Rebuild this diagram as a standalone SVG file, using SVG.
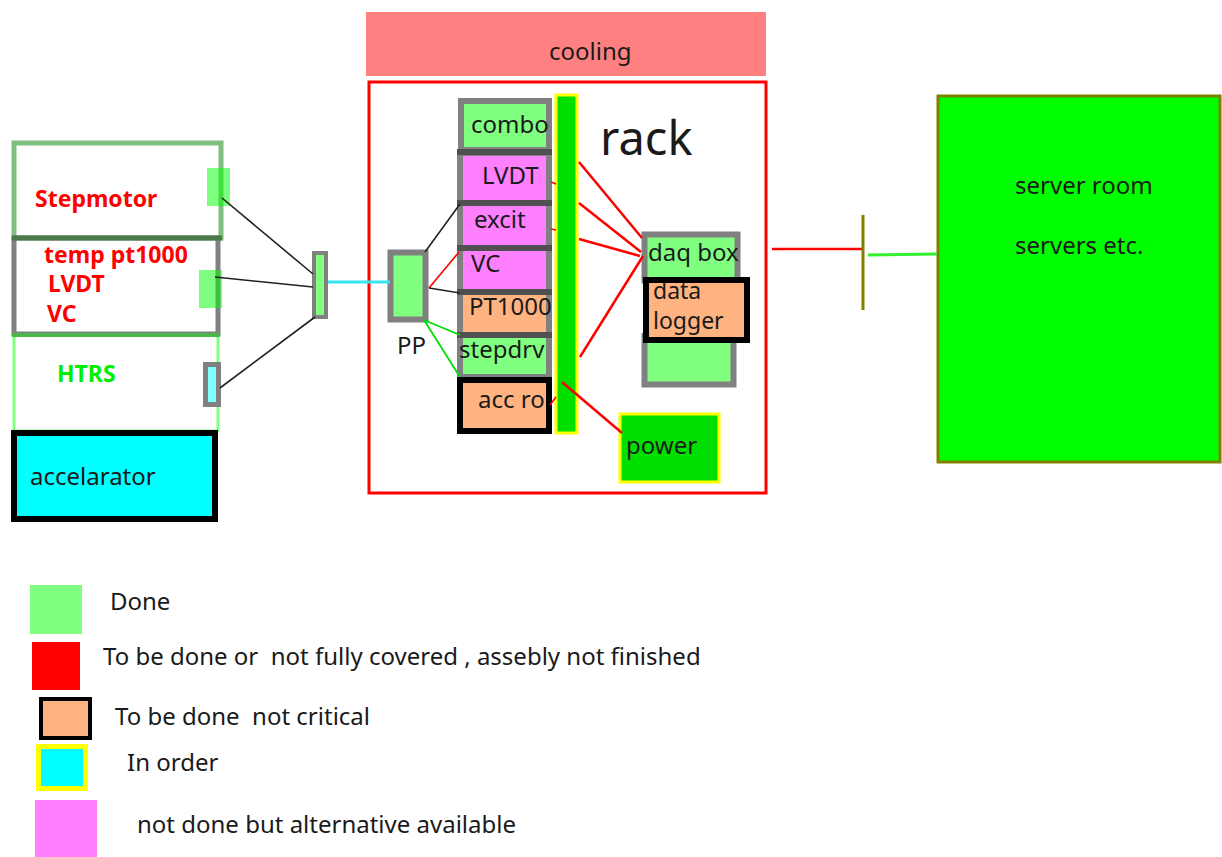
<svg xmlns="http://www.w3.org/2000/svg" width="1222" height="857" viewBox="0 0 1222 857">
<style>
text{font-family:"Noto Sans","Open Sans","DejaVu Sans",sans-serif;fill:#1a1a1a;font-size:24px;white-space:pre}
.lbl{font-weight:bold;fill:#ff0000;font-size:23px}
.grn{fill:#00ee00}
.big{font-size:47px}
.sm{font-size:23px}
.gbox{stroke:#808080;stroke-width:6}
.sep{stroke:#505050;stroke-width:6}
.done{fill:#80ff80}
.pink{fill:#ff80ff}
.peach{fill:#ffb380}
.tab{fill:#00ff00;fill-opacity:0.5}
.k{stroke:#222;stroke-width:1.6;fill:none}
.r{stroke:#ff0000;stroke-width:2.5;fill:none}
.rt{stroke:#ff0000;stroke-width:1.6;fill:none}
.g{stroke:#00dd00;stroke-width:1.8;fill:none}
</style>
<rect width="1222" height="857" fill="#ffffff"/>

<g id="cooling">
<rect x="366" y="12" width="400" height="64" fill="#ff8080"/>
<text x="549" y="60">cooling</text>
</g>

<g id="rack">
<rect x="369" y="82" width="397" height="411" fill="none" stroke="#ff0000" stroke-width="3"/>
<text class="big" x="600" y="155">rack</text>
</g>

<g id="stepmotor">
<rect x="14" y="143" width="207" height="95" fill="#ffffff" stroke="#008000" stroke-opacity="0.5" stroke-width="5"/>
<text class="lbl" x="35" y="207">Stepmotor</text>
</g>
<g id="temp">
<rect x="14" y="238" width="204" height="96" fill="#ffffff" stroke="#808080" stroke-width="5"/>
<line x1="12" y1="238" x2="222" y2="238" stroke="#4a7a4a" stroke-width="5"/>
<text class="lbl" x="44" y="263">temp pt1000</text>
<text class="lbl" x="48" y="292">LVDT</text>
<text class="lbl" x="47" y="322">VC</text>
</g>
<g id="htrs">
<rect x="14" y="335" width="204" height="96" fill="#ffffff" stroke="#80ff80" stroke-width="3"/>
<line x1="12" y1="335" x2="220" y2="335" stroke="#4cb84c" stroke-width="4"/>
<text class="lbl grn" x="57" y="382">HTRS</text>
</g>
<g id="accelarator">
<rect x="14" y="433" width="201" height="86" fill="#00ffff" stroke="#000000" stroke-width="6"/>
<text x="30" y="485">accelarator</text>
</g>
<g id="tab-step"><rect class="tab" x="207" y="168" width="23" height="38"/></g>
<g id="tab-temp"><rect class="tab" x="199" y="270" width="23" height="38"/></g>
<g id="tab-htrs"><rect x="205.5" y="364.5" width="13" height="40" fill="#80ffff" stroke="#808080" stroke-width="5"/></g>
<g id="junction"><rect x="314" y="253" width="12" height="64" fill="#80ff80" stroke="#808080" stroke-width="4"/></g>

<g id="pp">
<rect x="390.5" y="252.5" width="35" height="67" class="done gbox" stroke-width="5"/>
<text x="397" y="354">PP</text>
</g>

<g id="combo">
<rect x="461" y="101" width="88" height="49" class="done gbox"/>
<text x="471" y="133">combo</text>
</g>
<g id="lvdt">
<rect x="460" y="153" width="89" height="50" class="pink gbox"/>
<text x="482" y="184">LVDT</text>
</g>
<g id="excit">
<rect x="460" y="203" width="89" height="45" class="pink gbox"/>
<text x="474" y="228">excit</text>
</g>
<g id="vc">
<rect x="460" y="248" width="89" height="44" class="pink gbox"/>
<text x="471" y="272">VC</text>
</g>
<g id="pt1000">
<rect x="460" y="292" width="89" height="43" class="peach gbox"/>
<text x="469" y="315">PT1000</text>
</g>
<g id="stepdrv">
<rect x="460" y="335" width="89" height="42" class="done gbox"/>
<text x="459" y="358">stepdrv</text>
</g>
<g id="separators">
<line class="sep" x1="457" y1="152" x2="552" y2="152"/>
<line class="sep" x1="457" y1="203" x2="552" y2="203"/>
<line class="sep" x1="457" y1="248" x2="552" y2="248"/>
<line class="sep" x1="457" y1="292" x2="552" y2="292"/>
<line class="sep" x1="457" y1="335" x2="552" y2="335"/>
</g>
<g id="accro">
<rect x="460" y="380" width="89" height="51" class="peach" stroke="#000000" stroke-width="6"/>
<text x="478" y="408">acc ro</text>
</g>

<g id="bus">
<rect x="556" y="95" width="21" height="338" fill="#00e000" stroke="#ffff00" stroke-width="3"/>
</g>

<g id="daqbox">
<rect x="644.5" y="234.5" width="93" height="46" class="done gbox" stroke-width="5"/>
<text x="648" y="261">daq box</text>
</g>
<g id="lowerbox">
<rect x="644.5" y="336" width="89" height="48.5" class="done gbox" stroke-width="5"/>
</g>
<g id="datalogger">
<rect x="646" y="280" width="101" height="60" class="peach"/>
<text class="sm" x="653" y="299">data</text>
<text class="sm" x="653" y="329">logger</text>
<rect x="646" y="280" width="101" height="60" fill="none" stroke="#000000" stroke-width="6"/>
</g>

<g id="power">
<rect x="620" y="414" width="99" height="68" fill="#00e000" stroke="#ffff00" stroke-width="3"/>
<text x="626" y="454">power</text>
</g>

<g id="server">
<rect x="938" y="96" width="282" height="366" fill="#00ff00" stroke="#808000" stroke-width="3"/>
<text x="1015" y="194">server room</text>
<text x="1015" y="254">servers etc.</text>
</g>

<g id="connectors">
<line class="k" x1="222" y1="198" x2="313" y2="274"/>
<line class="k" x1="215" y1="277" x2="313" y2="287"/>
<line class="k" x1="220" y1="388" x2="315" y2="317"/>
<line x1="328" y1="282" x2="390" y2="282" stroke="#33e6f0" stroke-width="3"/>
<line class="k" x1="425" y1="252" x2="460" y2="204"/>
<line class="rt" x1="429" y1="288" x2="459" y2="252"/>
<line class="k" x1="429" y1="288" x2="460" y2="293"/>
<line class="g" x1="424" y1="320" x2="460" y2="335"/>
<line class="g" x1="424" y1="320" x2="460" y2="377"/>
<line class="rt" x1="551" y1="182" x2="556" y2="184"/>
<line class="rt" x1="551" y1="229" x2="556" y2="230"/>
<line class="rt" x1="550" y1="405" x2="556" y2="397"/>
<line class="r" x1="579" y1="162" x2="642" y2="238"/>
<line class="r" x1="579" y1="203" x2="641" y2="252"/>
<line class="r" x1="579" y1="239" x2="640" y2="256"/>
<line class="r" x1="580" y1="357" x2="643" y2="256"/>
<line class="r" x1="562" y1="382" x2="622" y2="433"/>
<line class="r" x1="772" y1="249" x2="862" y2="249"/>
<line x1="863" y1="215" x2="863" y2="310" stroke="#808000" stroke-width="3"/>
<line x1="868" y1="255" x2="937" y2="254" stroke="#33f033" stroke-width="3"/>
</g>

<g id="legend">
<rect x="30" y="585" width="52" height="49" fill="#80ff80"/>
<text x="110" y="610">Done</text>
<rect x="32" y="642" width="48" height="48" fill="#ff0000"/>
<text x="103" y="665">To be done or  not fully covered , assebly not finished</text>
<rect x="41" y="699" width="49" height="39" fill="#ffb380" stroke="#000000" stroke-width="4"/>
<text x="115" y="725">To be done  not critical</text>
<rect x="38.5" y="746.5" width="47" height="42" fill="#00ffff" stroke="#ffff00" stroke-width="5"/>
<text x="127" y="771">In order</text>
<rect x="35" y="800" width="62" height="57" fill="#ff80ff"/>
<text x="137" y="833">not done but alternative available</text>
</g>
</svg>
